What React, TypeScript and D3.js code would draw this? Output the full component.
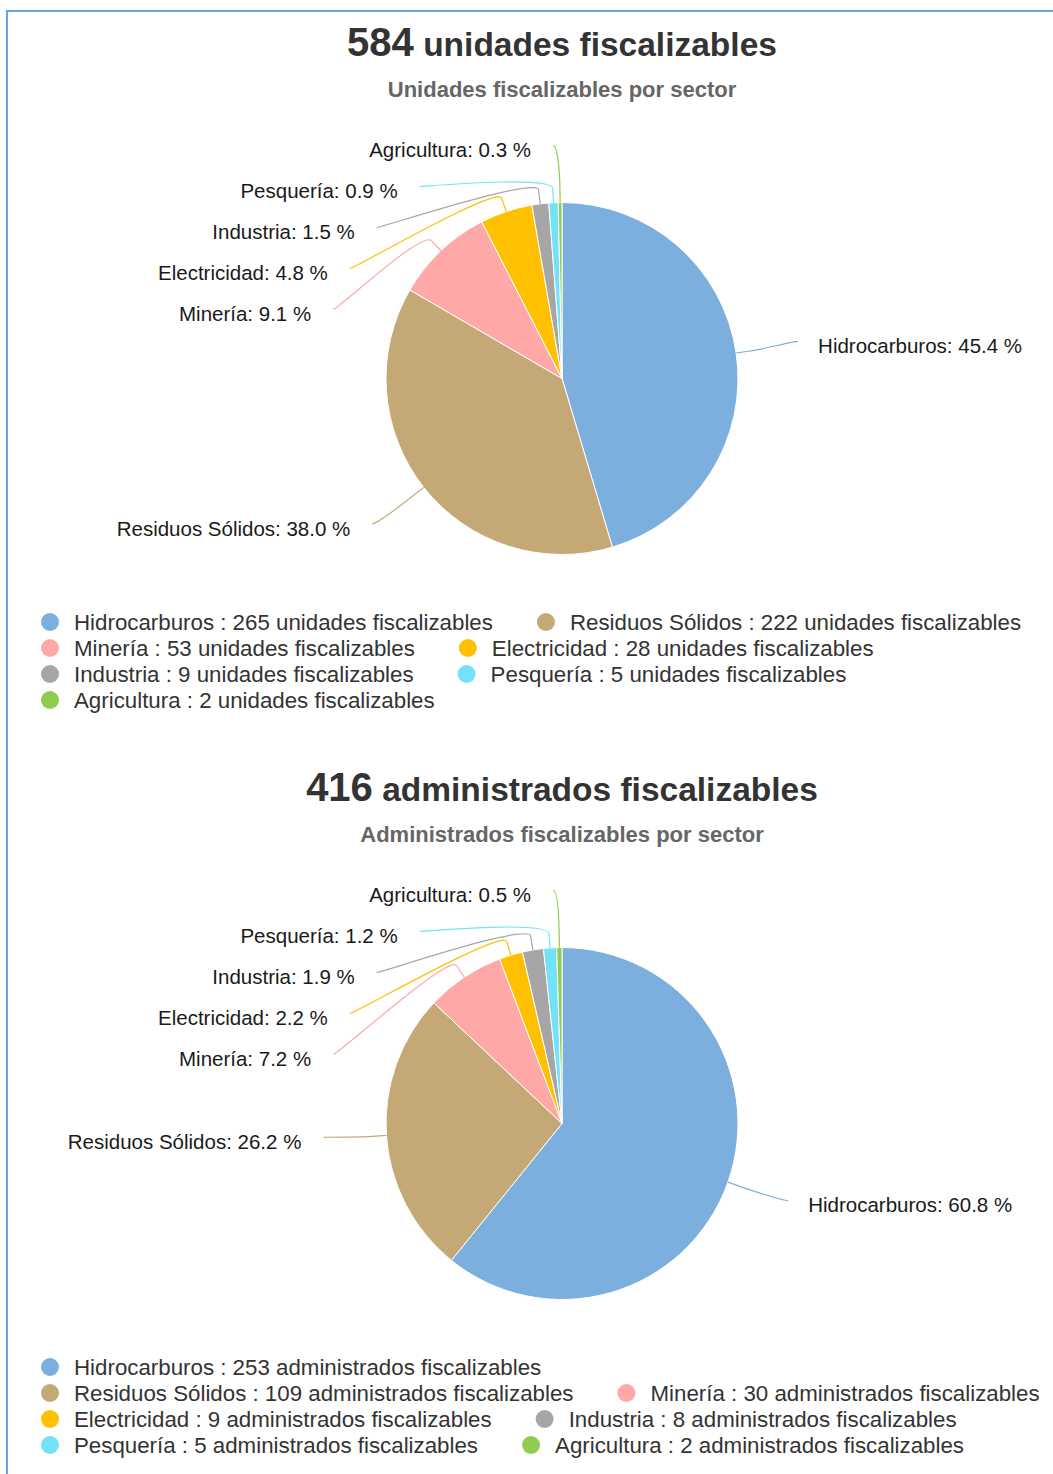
import React, { useEffect, useRef } from 'react';
import * as d3 from 'd3';

const sectors = ['Hidrocarburos', 'Residuos Sólidos', 'Minería', 'Electricidad', 'Industria', 'Pesquería', 'Agricultura'];
const sectorColors = ['#7cafdd', '#c4a876', '#ffa8a8', '#ffc000', '#a6a6a6', '#72e2f8', '#8fcc4f'];
const unidadesValues = [265, 222, 53, 28, 9, 5, 2];
const administradosValues = [253, 109, 30, 9, 8, 5, 2];
const titleNumbers = ['584', '416'];
const titleTexts = ['unidades fiscalizables', 'administrados fiscalizables'];
const subtitles = ['Unidades fiscalizables por sector', 'Administrados fiscalizables por sector'];
const legendUnits = ['unidades fiscalizables', 'administrados fiscalizables'];
const datasets = [unidadesValues, administradosValues];

const W = 1053;
const H = 1474;
const CHART_H = 745;
const CX = 562;
const CY = 378.5;
const R = 176;
const LABEL_R = 239;
const BREAK_OFF = 14;
const SPACING = 41;
const FONT = "'Liberation Sans', Arial, Helvetica, sans-serif";

export default function App() {
  const ref = useRef<SVGSVGElement>(null);

  useEffect(() => {
    const svg = d3.select(ref.current as SVGSVGElement);
    svg.selectAll('*').remove();

    svg.append('path')
      .attr('d', `M7,${H} L7,11 L${W},11`)
      .attr('fill', 'none')
      .attr('stroke', '#6aa6de')
      .attr('stroke-width', 2);

    datasets.forEach((values, ci) => {
      const g = svg.append('g').attr('transform', `translate(0,${ci * CHART_H})`).attr('font-family', FONT);

      // Title
      const t = g.append('text')
        .attr('x', CX).attr('y', 56)
        .attr('text-anchor', 'middle')
        .attr('font-weight', 'bold')
        .attr('fill', '#333333');
      t.append('tspan').attr('font-size', 40).text(titleNumbers[ci]);
      t.append('tspan').attr('font-size', 33.5).text(' ' + titleTexts[ci]);

      g.append('text')
        .attr('x', CX).attr('y', 97)
        .attr('text-anchor', 'middle')
        .attr('font-weight', 'bold')
        .attr('font-size', 22)
        .attr('fill', '#666666')
        .text(subtitles[ci]);

      // Pie
      const total = d3.sum(values);
      const pie = d3.pie<number>().sort(null).value(d => d);
      const arcs = pie(values);
      const arc = d3.arc<d3.PieArcDatum<number>>().innerRadius(0).outerRadius(R);

      g.append('g')
        .attr('transform', `translate(${CX},${CY})`)
        .selectAll('path')
        .data(arcs)
        .join('path')
        .attr('d', d => arc(d) as string)
        .attr('fill', (_d, i) => sectorColors[i])
        .attr('stroke', '#ffffff')
        .attr('stroke-width', 1)
        .attr('stroke-linejoin', 'round');

      // Data labels
      type Lab = { i: number; a: number; left: boolean; natY: number; y: number };
      const labs: Lab[] = arcs.map((d, i) => {
        const a = (d.startAngle + d.endAngle) / 2;
        return { i, a, left: a > Math.PI, natY: CY - LABEL_R * Math.cos(a), y: 0 };
      });
      const topB = CY - LABEL_R + 8.5;
      const botB = CY + LABEL_R - 8.5;
      [true, false].forEach(side => {
        const list = labs.filter(l => l.left === side).sort((p, q) => p.natY - q.natY);
        list.forEach((l, k) => {
          let y = Math.max(l.natY, topB);
          if (k > 0) y = Math.max(y, list[k - 1].y + SPACING);
          l.y = y;
        });
        for (let k = list.length - 1; k >= 0; k--) {
          const maxY = k === list.length - 1 ? botB : list[k + 1].y - SPACING;
          if (list[k].y > maxY) list[k].y = maxY;
        }
      });

      const labG = g.append('g');
      labs.forEach(l => {
        const color = sectorColors[l.i];
        const connY = l.y - 2.5;
        const yForX = l.y <= topB + 2 || l.y >= botB - 2 ? l.natY : connY;
        const dyc = Math.max(-1, Math.min(1, (yForX - CY) / LABEL_R));
        const dx = Math.max(Math.sqrt(1 - dyc * dyc) * LABEL_R, 9);
        const connX = l.left ? CX - dx : CX + dx;
        const tx = CX + R * Math.sin(l.a);
        const ty = CY - R * Math.cos(l.a);
        const bx = CX + (R + BREAK_OFF) * Math.sin(l.a);
        const by = CY - (R + BREAK_OFF) * Math.cos(l.a);
        const c1x = connX + (l.left ? 5 : -5);
        const path = `M${connX},${connY} C${c1x},${connY} ${2 * bx - tx},${2 * by - ty} ${bx},${by} L${tx},${ty}`;
        labG.append('path')
          .attr('d', path)
          .attr('fill', 'none')
          .attr('stroke', color)
          .attr('stroke-width', 1.2);
        const pct = ((values[l.i] / total) * 100).toFixed(1);
        labG.append('text')
          .attr('x', l.left ? connX - 22 : connX + 20)
          .attr('y', l.y + 2)
          .attr('dy', '0.35em')
          .attr('text-anchor', l.left ? 'end' : 'start')
          .attr('font-size', 20.5)
          .attr('fill', '#1a1a1a')
          .text(`${sectors[l.i]}: ${pct} %`);
      });

      // Legend
      const LEG_X0 = 41;
      const LEG_MAX = 1050;
      let x = LEG_X0;
      let y = 622;
      values.forEach((v, i) => {
        const item = g.append('g');
        const text = item.append('text')
          .attr('x', 33).attr('y', 0).attr('dy', '0.35em')
          .attr('font-size', 22.3)
          .attr('fill', '#333333')
          .text(`${sectors[i]} : ${v} ${legendUnits[ci]}`);
        const w = 33 + (text.node() as SVGTextElement).getComputedTextLength();
        if (x > LEG_X0 && x + w > LEG_MAX) {
          x = LEG_X0;
          y += 26;
        }
        item.attr('transform', `translate(${x},${y})`);
        item.append('circle').attr('cx', 9).attr('cy', 0).attr('r', 9).attr('fill', sectorColors[i]);
        x += w + 44;
      });
    });
  }, []);

  return (
    <svg
      ref={ref}
      width={W}
      height={H}
      style={{ position: 'absolute', left: 0, top: 0, background: '#ffffff' }}
    />
  );
}
